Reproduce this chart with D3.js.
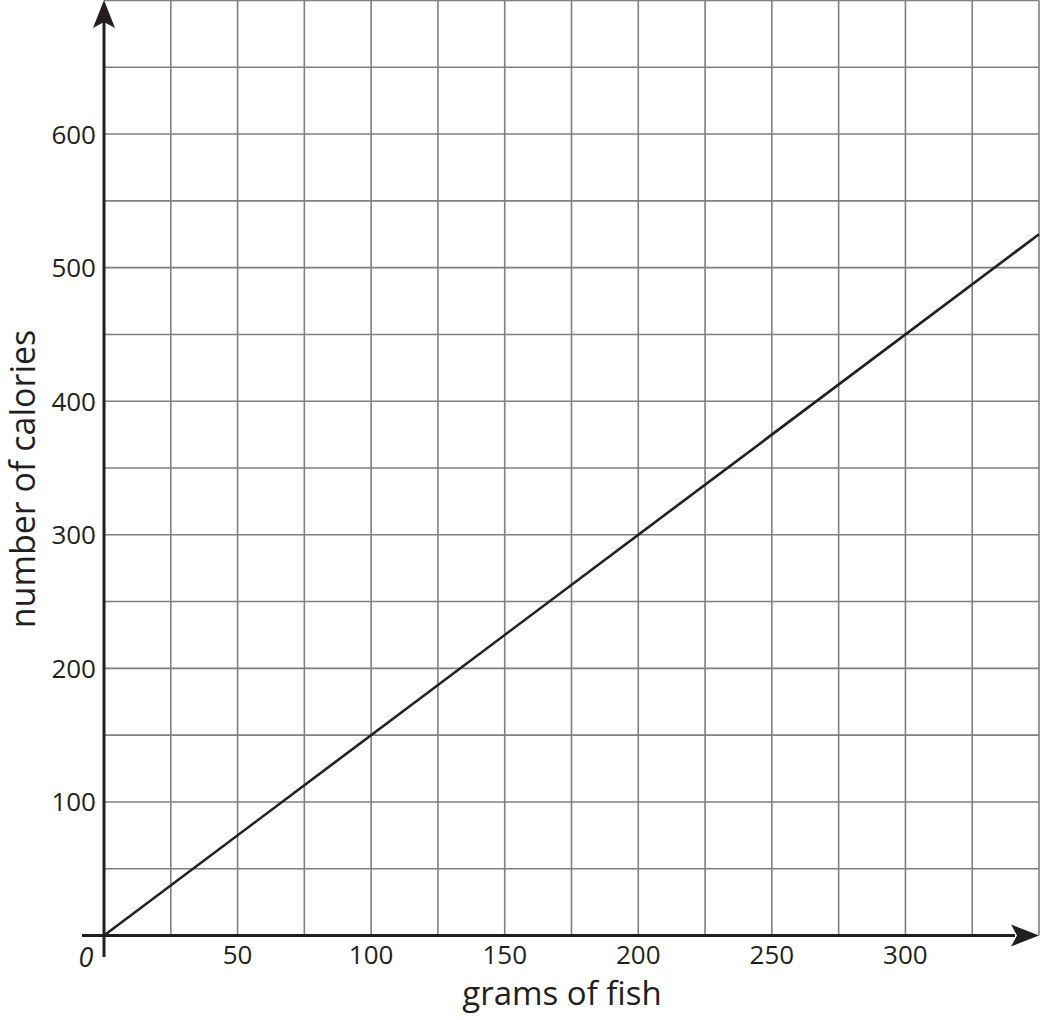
<!DOCTYPE html>
<html><head><meta charset="utf-8">
<script src="https://cdn.jsdelivr.net/npm/d3@7"></script>
<style>body{margin:0;background:#fff}svg{display:block}text{font-family:"Open Sans",sans-serif;fill:#231f20}</style>
</head><body><svg id="c" width="1040" height="1020"></svg>
<script>
const xTicks = [50,100,150,200,250,300];
const yTicks = [100,200,300,400,500,600];
const lineX = [0, 350];
const lineY = [0, 525];
const xLabel = "grams of fish";
const yLabel = "number of calories";
const originLabel = "0";

const svg = d3.select("#c");
const x = d3.scaleLinear().domain([0,350]).range([104,1039]);
const y = d3.scaleLinear().domain([0,700]).range([935.5,0.5]);

const g = svg.append("g");
g.selectAll(".vx").data(d3.range(25,351,25)).join("line")
  .attr("x1",d=>x(d)).attr("x2",d=>x(d)).attr("y1",y(0)).attr("y2",y(700))
  .attr("stroke","#808080").attr("stroke-width",1.6);
g.selectAll(".hy").data(d3.range(50,701,50)).join("line")
  .attr("y1",d=>y(d)).attr("y2",d=>y(d)).attr("x1",x(0)).attr("x2",x(350))
  .attr("stroke","#808080").attr("stroke-width",1.6);

// data line
svg.append("path").datum(lineX.map((d,i)=>[d,lineY[i]]))
  .attr("d", d3.line().x(d=>x(d[0])).y(d=>y(d[1])))
  .attr("stroke","#231f20").attr("stroke-width",2.6).attr("fill","none");

// axes
svg.append("line").attr("x1",82).attr("x2",1015).attr("y1",y(0)).attr("y2",y(0)).attr("stroke","#231f20").attr("stroke-width",3);
svg.append("line").attr("x1",x(0)).attr("x2",x(0)).attr("y1",957).attr("y2",22).attr("stroke","#231f20").attr("stroke-width",3);
// arrowheads
const ax=x(0), ay=y(0);
svg.append("path").attr("d",`M${ax},0 L${ax+11},28 L${ax},22 L${ax-11},28 Z`).attr("fill","#231f20");
svg.append("path").attr("d",`M1039,${ay} L1011,${ay-11} L1017,${ay} L1011,${ay+11} Z`).attr("fill","#231f20");

// tick labels
svg.selectAll(".xt").data(xTicks).join("text")
  .attr("x",d=>x(d)).attr("y",964).attr("text-anchor","middle").attr("font-size",26).text(d=>d);
svg.selectAll(".yt").data(yTicks).join("text")
  .attr("x",96).attr("y",d=>y(d)+9.5).attr("text-anchor","end").attr("font-size",26).text(d=>d);
svg.append("text").attr("x",86).attr("y",967).attr("text-anchor","middle").attr("font-size",27)
  .attr("font-style","italic").text(originLabel);

svg.append("text").attr("x",562).attr("y",1005).attr("text-anchor","middle").attr("font-size",33).text(xLabel);
svg.append("text").attr("transform","translate(35,479) rotate(-90)").attr("text-anchor","middle").attr("font-size",34).text(yLabel);
</script></body></html>
